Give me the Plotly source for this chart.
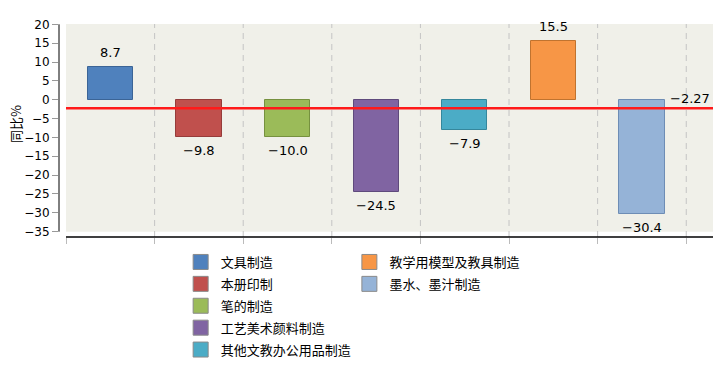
import plotly.graph_objects as go

categories = ["文具制造", "本册印制", "笔的制造", "工艺美术颜料制造",
              "其他文教办公用品制造", "教学用模型及教具制造", "墨水、墨汁制造"]
values = [8.7, -9.8, -10.0, -24.5, -7.9, 15.5, -30.4]
average = -2.27
y_ticks = [20, 15, 10, 5, 0, -5, -10, -15, -20, -25, -30, -35]
y_title = "同比%"

fills = ["#4F81BD", "#C0504D", "#9BBB59", "#8064A2", "#4BACC6", "#F79646", "#95B3D7"]
edges = ["#3B6496", "#963C3A", "#76913F", "#5F4A7C", "#35879C", "#C0732F", "#6E8DB5"]

NUM_FONT = "DejaVu Sans, Verdana, sans-serif"
CJK_FONT = "Noto Sans CJK SC, sans-serif"

n = len(categories)
xs = list(range(n))
xmin, xmax = -0.579, 6.802
ymin, ymax = -36.41, 20.08

def fmt(v):
    return f"{v:.1f}".replace("-", "\u2212")

fig = go.Figure()
fig.add_trace(go.Bar(
    x=xs, y=values, width=0.51,
    marker=dict(color=fills, line=dict(color=edges, width=1)),
    showlegend=False, hoverinfo="skip",
))

# legend entries (two columns)
for i, (name, c, e) in enumerate(zip(categories, fills, edges)):
    fig.add_trace(go.Scatter(
        x=[None], y=[None], mode="markers", name=name, legendgroup=name,
        marker=dict(symbol="square", size=15, color=c, line=dict(color="#8A8A8A", width=1)),
        legend="legend" if i < 5 else "legend2",
    ))

shapes = []
# background
shapes.append(dict(type="rect", xref="x", yref="y", x0=-0.5, x1=xmax, y0=y_ticks[-1], y1=ymax,
                   fillcolor="#F0F0E9", line=dict(width=0), layer="below"))
# vertical dashed gridlines at category boundaries
for i in range(n):
    shapes.append(dict(type="line", xref="x", yref="y", x0=i + 0.5, x1=i + 0.5, y0=ymin, y1=ymax,
                       line=dict(color="#C4C4C4", width=1, dash="6px,5px"), layer="below"))
# y axis line
shapes.append(dict(type="line", xref="paper", yref="y", x0=0, x1=0, y0=y_ticks[-1], y1=y_ticks[0],
                   line=dict(color="black", width=1)))
# x axis line
fx0 = (-0.5 - xmin) / (xmax - xmin)
shapes.append(dict(type="line", xref="paper", yref="paper", x0=fx0, x1=1, y0=0, y1=0,
                   line=dict(color="black", width=1.5)))
# average line
shapes.append(dict(type="line", xref="x", yref="y", x0=-0.5, x1=xmax, y0=average, y1=average,
                   line=dict(color="#FF1A1A", width=2.5), layer="above"))

annotations = []
for x, v in zip(xs, values):
    annotations.append(dict(
        x=x, y=v, xref="x", yref="y", text=fmt(v), showarrow=False,
        yanchor="bottom" if v >= 0 else "top", yshift=5 if v >= 0 else -4,
        font=dict(family=NUM_FONT, size=13, color="black"),
    ))
annotations.append(dict(
    x=xmax, y=average, xref="x", yref="y", text=f"{average:.2f}".replace("-", "\u2212"),
    showarrow=False, xanchor="right", yanchor="bottom", yshift=0, xshift=-1,
    font=dict(family=NUM_FONT, size=13, color="black"),
))
# y-axis title
annotations.append(dict(
    x=-0.0665, y=0.528, xref="paper", yref="paper", text=y_title, textangle=-90,
    showarrow=False, xanchor="center", yanchor="middle",
    font=dict(family=CJK_FONT, size=13, color="black"),
))

legend_style = dict(xanchor="left", yanchor="top", orientation="v",
                    font=dict(family=CJK_FONT, size=13), bgcolor="rgba(0,0,0,0)",
                    tracegroupgap=2, itemwidth=30, itemclick=False, itemdoubleclick=False)

fig.update_layout(
    width=720, height=365,
    margin=dict(l=59, r=7, t=24, b=128, autoexpand=False),
    paper_bgcolor="white", plot_bgcolor="white",
    font=dict(family=NUM_FONT, size=12, color="black"),
    shapes=shapes, annotations=annotations,
    xaxis=dict(range=[xmin, xmax], tickvals=[i - 0.5 for i in range(n + 1)],
               showticklabels=False, ticks="outside", ticklen=6, tickcolor="#BBBBBB",
               showgrid=False, zeroline=False, showline=False, fixedrange=True,
               automargin=False),
    yaxis=dict(range=[ymin, ymax], tickvals=y_ticks, ticks="outside", ticklen=6,
               tickcolor="#999999", showgrid=False, zeroline=False, showline=False,
               tickfont=dict(family=NUM_FONT, size=12), automargin=False, fixedrange=True),
    legend=dict(x=0.186, y=-0.047, **legend_style),
    legend2=dict(x=0.444, y=-0.047, **legend_style),
    bargap=0,
)

fig.write_html("out.html", post_script="document.body.style.margin='0';",
               config={"displayModeBar": False})
